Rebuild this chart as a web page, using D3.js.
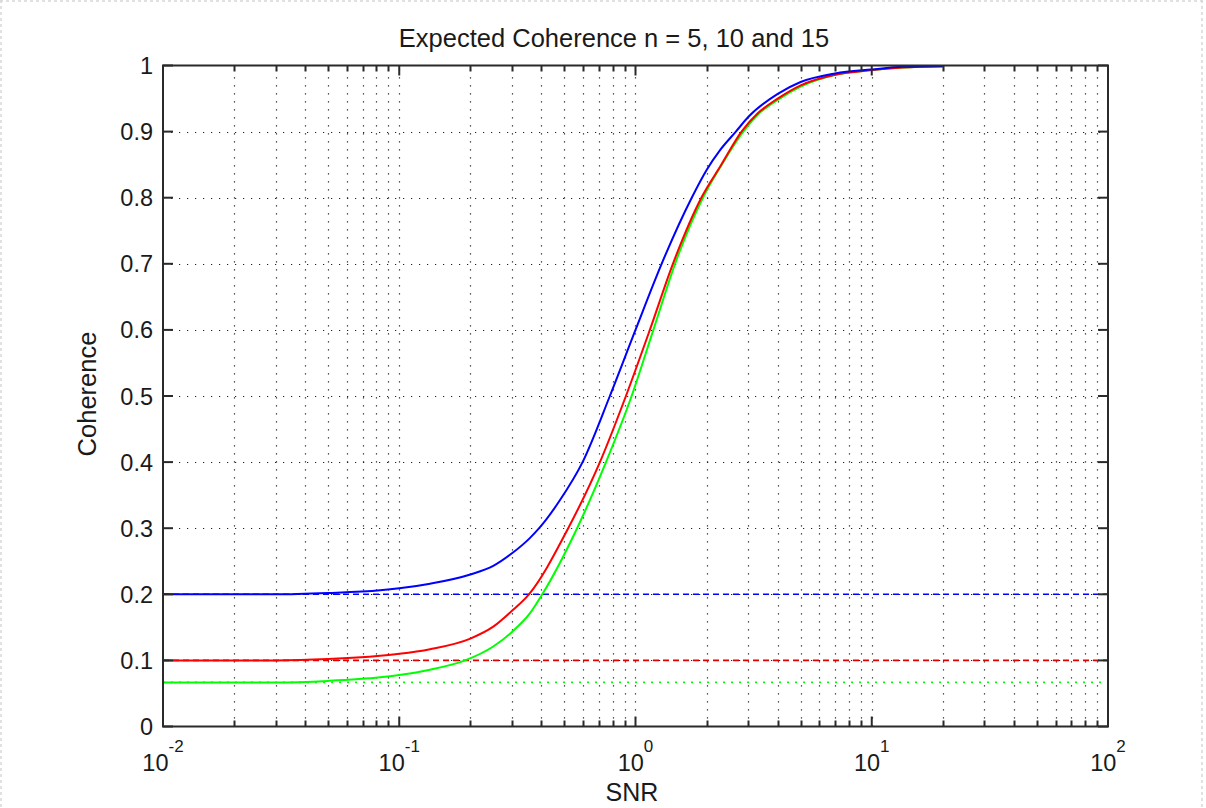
<!DOCTYPE html>
<html>
<head>
<meta charset="utf-8">
<script src="https://cdn.jsdelivr.net/npm/d3@7"></script>
<style>
  html, body { margin: 0; padding: 0; background: #ffffff; }
  svg { display: block; }
  text { font-family: "Liberation Sans", Arial, sans-serif; fill: #1a1a1a; }
</style>
</head>
<body>
<svg id="chart" width="1206" height="808"></svg>
<script>
// Expected coherence versus SNR for n = 5, 10 and 15 averages
const snrN5  = [0.01, 0.03, 0.05, 0.083, 0.1, 0.135, 0.2, 0.25, 0.3, 0.357, 0.391, 0.48, 0.597, 0.779, 1.0, 1.29, 1.73, 2.0, 2.28, 2.66, 3.0, 4.0, 5.0, 7.0, 10, 13.5, 20];
const cohN5  = [0.200, 0.200, 0.202, 0.206, 0.209, 0.216, 0.230, 0.243, 0.262, 0.285, 0.300, 0.343, 0.400, 0.500, 0.600, 0.700, 0.800, 0.842, 0.872, 0.900, 0.922, 0.957, 0.975, 0.988, 0.994, 0.998, 0.999];

const snrN10 = [0.01, 0.03, 0.05, 0.083, 0.1, 0.135, 0.2, 0.25, 0.3, 0.354, 0.519, 0.707, 0.911, 1.15, 1.44, 1.90, 2.3, 2.81, 3.3, 4.0, 5.0, 7.0, 10, 13.5, 20];
const cohN10 = [0.100, 0.100, 0.102, 0.107, 0.110, 0.117, 0.133, 0.151, 0.175, 0.200, 0.300, 0.400, 0.500, 0.600, 0.700, 0.800, 0.849, 0.900, 0.928, 0.950, 0.970, 0.986, 0.993, 0.997, 0.999];

const snrN15 = [0.01, 0.03, 0.05, 0.083, 0.1, 0.135, 0.19, 0.25, 0.3, 0.357, 0.403, 0.566, 0.75, 0.963, 1.19, 1.47, 1.93, 2.3, 2.86, 3.3, 4.0, 5.0, 7.0, 10, 13.5, 20];
const cohN15 = [0.0667, 0.0667, 0.069, 0.0744, 0.078, 0.086, 0.100, 0.121, 0.143, 0.171, 0.200, 0.300, 0.400, 0.500, 0.600, 0.700, 0.800, 0.848, 0.900, 0.926, 0.948, 0.968, 0.986, 0.993, 0.997, 0.999];

// Low-SNR floor 1/n for each n
const floorLevels = [0.2, 0.1, 0.0667];
const floorColors = ["#0000ff", "#e00000", "#00ff00"];
const floorDash   = ["6,4", "6,4", "2,6"];

const seriesColors = ["#0000ff", "#ff0000", "#00ff00"];

const xTickExps = [-2, -1, 0, 1, 2];
const yTickVals = [0, 0.1, 0.2, 0.3, 0.4, 0.5, 0.6, 0.7, 0.8, 0.9, 1];
const yTickLabels = ["0", "0.1", "0.2", "0.3", "0.4", "0.5", "0.6", "0.7", "0.8", "0.9", "1"];

const titleText = "Expected Coherence n = 5, 10 and 15";
const xLabel = "SNR";
const yLabel = "Coherence";

// Plot box
const plotL = 163, plotR = 1108, plotT = 65.5, plotB = 726.5;

const svg = d3.select("#chart");

const x = d3.scaleLog().domain([0.01, 100]).range([plotL, plotR]);
const y = d3.scaleLinear().domain([0, 1]).range([plotB, plotT]);

// faint dotted frame at the page edges
const edge = svg.append("g").attr("stroke", "#d8d8d8").attr("stroke-width", 1.5).attr("stroke-dasharray", "3,3");
edge.append("line").attr("x1", 0).attr("x2", 1206).attr("y1", 1).attr("y2", 1);
edge.append("line").attr("x1", 1).attr("x2", 1).attr("y1", 0).attr("y2", 808);
edge.append("line").attr("x1", 1202).attr("x2", 1202).attr("y1", 0).attr("y2", 808);

// Grid: major and minor decades on x, every 0.1 on y
const xGridVals = [];
for (let e = -2; e < 2; e++) {
  for (let m = 1; m <= 9; m++) xGridVals.push(m * Math.pow(10, e));
}
xGridVals.push(100);
const xMinor = xGridVals.filter(v => Math.abs(Math.log10(v) - Math.round(Math.log10(v))) > 1e-9);

const grid = svg.append("g").attr("stroke", "#222").attr("stroke-width", 1.2).attr("stroke-dasharray", "1.2,6.8");
grid.selectAll("line.gx").data(xGridVals.filter(v => v > 0.01 && v < 100)).enter()
  .append("line").attr("class", "gx")
  .attr("x1", d => Math.round(x(d)) + 0.5).attr("x2", d => Math.round(x(d)) + 0.5)
  .attr("y1", plotB).attr("y2", plotT);
grid.selectAll("line.gy").data(yTickVals.filter(v => v > 0 && v < 1)).enter()
  .append("line").attr("class", "gy")
  .attr("x1", plotL).attr("x2", plotR)
  .attr("y1", d => Math.round(y(d)) + 0.5).attr("y2", d => Math.round(y(d)) + 0.5);

// 1/n floor lines
svg.append("g").selectAll("line").data(floorLevels).enter()
  .append("line")
  .attr("x1", x(0.01)).attr("x2", x(100))
  .attr("y1", d => y(d)).attr("y2", d => y(d))
  .attr("stroke", (d, i) => floorColors[i])
  .attr("stroke-width", 1.6)
  .attr("stroke-dasharray", (d, i) => floorDash[i]);

// Curves
const series = [
  { snr: snrN5,  coh: cohN5 },
  { snr: snrN10, coh: cohN10 },
  { snr: snrN15, coh: cohN15 }
];
const line = d3.line().x(d => x(d[0])).y(d => y(d[1])).curve(d3.curveMonotoneX);
// green first so blue sits on top where they merge
[2, 1, 0].forEach(i => {
  const s = series[i];
  svg.append("path")
    .datum(s.snr.map((v, k) => [v, s.coh[k]]))
    .attr("fill", "none")
    .attr("stroke", seriesColors[i])
    .attr("stroke-width", 2)
    .attr("d", line);
});

// Axes box with inward ticks on all four sides
const axes = svg.append("g").attr("stroke", "#2a2a2a").attr("stroke-width", 2);
axes.append("rect").attr("x", plotL).attr("y", plotT).attr("width", plotR - plotL).attr("height", plotB - plotT).attr("fill", "none");

const xMajor = xTickExps.map(e => Math.pow(10, e));
xMajor.forEach(v => {
  const px = x(v);
  axes.append("line").attr("x1", px).attr("x2", px).attr("y1", plotB).attr("y2", plotB - 10);
  axes.append("line").attr("x1", px).attr("x2", px).attr("y1", plotT).attr("y2", plotT + 10);
});
xMinor.forEach(v => {
  const px = Math.round(x(v)) + 0.5;
  axes.append("line").attr("x1", px).attr("x2", px).attr("y1", plotB).attr("y2", plotB - 6);
  axes.append("line").attr("x1", px).attr("x2", px).attr("y1", plotT).attr("y2", plotT + 6);
});
yTickVals.forEach(v => {
  const py = y(v);
  axes.append("line").attr("x1", plotL).attr("x2", plotL + 10).attr("y1", py).attr("y2", py);
  axes.append("line").attr("x1", plotR).attr("x2", plotR - 10).attr("y1", py).attr("y2", py);
});

// Y tick labels
svg.append("g").selectAll("text").data(yTickVals).enter()
  .append("text")
  .attr("x", plotL - 10)
  .attr("y", d => y(d) + 8.5)
  .attr("text-anchor", "end")
  .attr("font-size", 23.5)
  .text((d, i) => yTickLabels[i]);

// X tick labels as powers of ten
const xl = svg.append("g").selectAll("text").data(xTickExps).enter()
  .append("text")
  .attr("x", d => x(Math.pow(10, d)))
  .attr("y", 771)
  .attr("text-anchor", "middle")
  .attr("font-size", 23.5);
xl.append("tspan").text("10");
xl.append("tspan").attr("dy", -19).attr("font-size", 17).text(d => String(d));

// Title and axis labels
svg.append("text").attr("x", 614).attr("y", 47).attr("text-anchor", "middle").attr("font-size", 25.5).text(titleText);
svg.append("text").attr("x", 632).attr("y", 801).attr("text-anchor", "middle").attr("font-size", 25).text(xLabel);
svg.append("text").attr("transform", "translate(96,394) rotate(-90)").attr("text-anchor", "middle").attr("font-size", 25.5).text(yLabel);
</script>
</body>
</html>
